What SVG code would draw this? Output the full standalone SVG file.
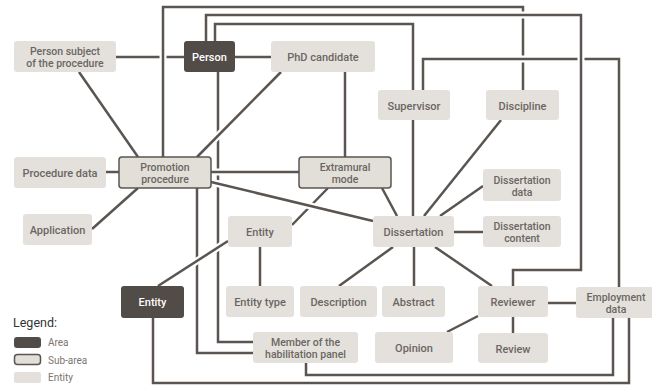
<svg xmlns="http://www.w3.org/2000/svg" xmlns:xlink="http://www.w3.org/1999/xlink" width="652" height="385" viewBox="0 0 652 385">
<style>
.c{fill:none;stroke:#5a5551;stroke-width:2.5;}
.h{fill:none;stroke:#ffffff;stroke-width:7;}
.ent{fill:#e4e1dc;}
.sub{fill:#e2dfd9;stroke:#5a5551;stroke-width:1.5;}
.area{fill:#524c48;}
text{font-family:Roboto,"Liberation Sans",Arial,sans-serif;font-size:11px;font-weight:500;text-anchor:middle;}
.t{fill:#6b6662;}
.t2{fill:#6b6662;font-size:10.5px;}
.tw{fill:#ffffff;}
.lg{font-size:12.5px;font-weight:400;text-anchor:start;fill:#333333;}
.ll{font-size:10px;font-weight:400;text-anchor:start;fill:#7a7570;}
</style>
<defs>
<path id="p1" d="M116,57 H184"/>
<path id="p2" d="M79,72 L138,157"/>
<path id="p3" d="M235,57 H271"/>
<path id="p9" d="M218,72 V342 H253"/>
<path id="p10" d="M197,188 V353 H253"/>
<path id="p4" d="M281,72 L197,157"/>
<path id="p5" d="M345,72 V157"/>
<path id="p6" d="M106,172 H119"/>
<path id="p7" d="M138,188 L92,229"/>
<path id="p8" d="M211,172 H299"/>
<path id="p11" d="M328,188 L292,225"/>
<path id="p12" d="M382,188 L397,216"/>
<path id="p13" d="M211,182 L373,221"/>
<path id="p14" d="M228,241 L158,286"/>
<path id="p15" d="M260,247 V286"/>
<path id="p16" d="M163,157 V7 H523 V90"/>
<path id="p17" d="M423,90 V59 H619 V287"/>
<path id="p18" d="M206,41 V15 H581 V270 H513 V286"/>
<path id="p19" d="M215,41 V24 H413 V90"/>
<path id="p20" d="M413,120 V216"/>
<path id="p21" d="M424,216 L501,120"/>
<path id="p22" d="M440,216 L483,186"/>
<path id="p23" d="M454,232 H483"/>
<path id="p24" d="M393,247 L339,286"/>
<path id="p25" d="M414,247 V286"/>
<path id="p26" d="M435,247 L492,286"/>
<path id="p27" d="M478,316 L447,332"/>
<path id="p28" d="M513,317 V333"/>
<path id="p29" d="M548,303 H576"/>
<path id="p30" d="M306,363 V375 H613 V318"/>
<path id="p31" d="M153,318 V383 H629 V318"/>
</defs>
<rect width="652" height="385" fill="#ffffff"/>
<g id="connectors">
<use xlink:href="#p1" class="h"/><use xlink:href="#p1" class="c"/>
<use xlink:href="#p2" class="h"/><use xlink:href="#p2" class="c"/>
<use xlink:href="#p3" class="h"/><use xlink:href="#p3" class="c"/>
<use xlink:href="#p9" class="h"/><use xlink:href="#p9" class="c"/>
<use xlink:href="#p10" class="h"/><use xlink:href="#p10" class="c"/>
<use xlink:href="#p4" class="h"/><use xlink:href="#p4" class="c"/>
<use xlink:href="#p5" class="h"/><use xlink:href="#p5" class="c"/>
<use xlink:href="#p6" class="h"/><use xlink:href="#p6" class="c"/>
<use xlink:href="#p7" class="h"/><use xlink:href="#p7" class="c"/>
<use xlink:href="#p8" class="h"/><use xlink:href="#p8" class="c"/>
<use xlink:href="#p11" class="h"/><use xlink:href="#p11" class="c"/>
<use xlink:href="#p12" class="h"/><use xlink:href="#p12" class="c"/>
<use xlink:href="#p13" class="h"/><use xlink:href="#p13" class="c"/>
<use xlink:href="#p14" class="h"/><use xlink:href="#p14" class="c"/>
<use xlink:href="#p15" class="h"/><use xlink:href="#p15" class="c"/>
<use xlink:href="#p16" class="h"/><use xlink:href="#p16" class="c"/>
<use xlink:href="#p17" class="h"/><use xlink:href="#p17" class="c"/>
<use xlink:href="#p18" class="h"/><use xlink:href="#p18" class="c"/>
<use xlink:href="#p19" class="h"/><use xlink:href="#p19" class="c"/>
<use xlink:href="#p20" class="h"/><use xlink:href="#p20" class="c"/>
<use xlink:href="#p21" class="h"/><use xlink:href="#p21" class="c"/>
<use xlink:href="#p22" class="h"/><use xlink:href="#p22" class="c"/>
<use xlink:href="#p23" class="h"/><use xlink:href="#p23" class="c"/>
<use xlink:href="#p24" class="h"/><use xlink:href="#p24" class="c"/>
<use xlink:href="#p25" class="h"/><use xlink:href="#p25" class="c"/>
<use xlink:href="#p26" class="h"/><use xlink:href="#p26" class="c"/>
<use xlink:href="#p27" class="h"/><use xlink:href="#p27" class="c"/>
<use xlink:href="#p28" class="h"/><use xlink:href="#p28" class="c"/>
<use xlink:href="#p29" class="h"/><use xlink:href="#p29" class="c"/>
<use xlink:href="#p30" class="h"/><use xlink:href="#p30" class="c"/>
<use xlink:href="#p31" class="h"/><use xlink:href="#p31" class="c"/>
</g>
<g id="person-subject"><rect class="ent" x="14" y="41" width="102" height="31" rx="3"/><text class="t2" x="65" y="54.5">Person subject</text><text class="t2" x="65" y="66.5">of the procedure</text></g>
<g id="person"><rect class="area" x="184" y="41" width="51" height="31" rx="3"/><text class="tw" x="209.5" y="61">Person</text></g>
<g id="phd-candidate"><rect class="ent" x="271" y="41" width="104" height="31" rx="3"/><text class="t" x="323" y="61">PhD candidate</text></g>
<g id="supervisor"><rect class="ent" x="378" y="90" width="72" height="30" rx="3"/><text class="t" x="414" y="109.5">Supervisor</text></g>
<g id="discipline"><rect class="ent" x="486" y="90" width="73" height="30" rx="3"/><text class="t" x="522.5" y="109.5">Discipline</text></g>
<g id="procedure-data"><rect class="ent" x="14" y="157" width="92" height="31" rx="3"/><text class="t" x="60" y="177">Procedure data</text></g>
<g id="promotion-procedure"><rect class="sub" x="119" y="157" width="92" height="31" rx="3"/><text class="t2" x="165" y="170.5">Promotion</text><text class="t2" x="165" y="182.5">procedure</text></g>
<g id="application"><rect class="ent" x="23" y="214" width="69" height="31" rx="3"/><text class="t" x="57.5" y="234">Application</text></g>
<g id="extramural-mode"><rect class="sub" x="299" y="157" width="92" height="31" rx="3"/><text class="t2" x="345" y="170.5">Extramural</text><text class="t2" x="345" y="182.5">mode</text></g>
<g id="entity"><rect class="ent" x="228" y="216" width="64" height="31" rx="3"/><text class="t" x="260" y="236">Entity</text></g>
<g id="dissertation"><rect class="ent" x="373" y="216" width="81" height="31" rx="3"/><text class="t" x="413.5" y="236">Dissertation</text></g>
<g id="dissertation-data"><rect class="ent" x="483" y="169" width="78" height="32" rx="3"/><text class="t2" x="522" y="183.5">Dissertation</text><text class="t2" x="522" y="195.5">data</text></g>
<g id="dissertation-content"><rect class="ent" x="483" y="216" width="78" height="31" rx="3"/><text class="t2" x="522" y="229.5">Dissertation</text><text class="t2" x="522" y="241.5">content</text></g>
<g id="entity-area"><rect class="area" x="121" y="286" width="63" height="32" rx="3"/><text class="tw" x="152.5" y="306">Entity</text></g>
<g id="entity-type"><rect class="ent" x="226" y="286" width="68" height="31" rx="3"/><text class="t" x="260" y="306">Entity type</text></g>
<g id="description"><rect class="ent" x="300" y="286" width="77" height="31" rx="3"/><text class="t" x="338.5" y="306">Description</text></g>
<g id="abstract"><rect class="ent" x="382" y="286" width="63" height="31" rx="3"/><text class="t" x="413.5" y="306">Abstract</text></g>
<g id="reviewer"><rect class="ent" x="478" y="286" width="70" height="31" rx="3"/><text class="t" x="513" y="306">Reviewer</text></g>
<g id="employment-data"><rect class="ent" x="576" y="287" width="80" height="31" rx="3"/><text class="t2" x="616" y="301">Employment</text><text class="t2" x="616" y="313">data</text></g>
<g id="member-panel"><rect class="ent" x="253" y="332" width="105" height="31" rx="3"/><text class="t2" x="305.5" y="345.5">Member of the</text><text class="t2" x="305.5" y="357.5">habilitation panel</text></g>
<g id="opinion"><rect class="ent" x="375" y="332" width="78" height="31" rx="3"/><text class="t" x="414" y="352">Opinion</text></g>
<g id="review"><rect class="ent" x="478" y="333" width="70" height="30" rx="3"/><text class="t" x="513" y="352.5">Review</text></g>
<g id="legend">
<text class="lg" x="13" y="327">Legend:</text>
<rect class="area" x="14" y="337" width="27" height="11" rx="3"/><text class="ll" x="48" y="346">Area</text>
<rect class="sub" x="14.5" y="354.5" width="26" height="10" rx="3"/><text class="ll" x="48" y="363.5">Sub-area</text>
<rect class="ent" x="14" y="372" width="27" height="11" rx="2"/><text class="ll" x="48" y="381">Entity</text>
</g>
</svg>
